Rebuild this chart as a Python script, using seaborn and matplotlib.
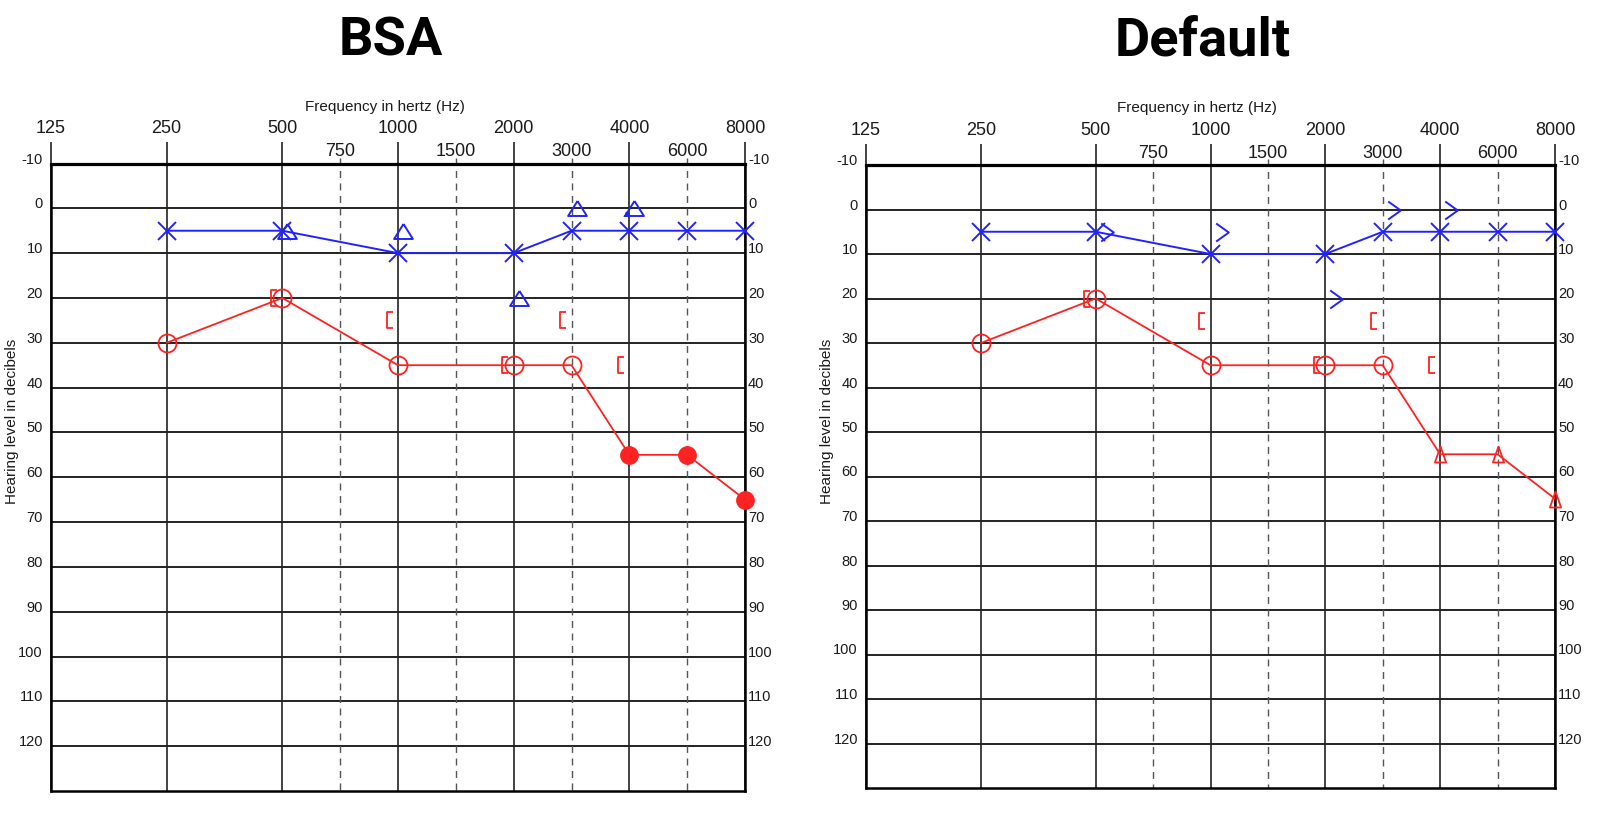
import numpy as np
import matplotlib
matplotlib.use("Agg")
import matplotlib.pyplot as plt
import seaborn as sns
from matplotlib.path import Path
from matplotlib.transforms import ScaledTranslation

sns.set_style("white")
plt.rcParams["font.family"] = ["Liberation Sans", "DejaVu Sans"]
plt.rcParams["text.color"] = "black"

# ── dados do audiograma ───────────────────────────────────────────────────────
FREQ = [250, 500, 1000, 2000, 3000, 4000, 6000, 8000]
LEFT_AIR = [5, 5, 10, 10, 5, 5, 5, 5]          # X azul
RIGHT_AIR = [30, 20, 35, 35, 35, 55, 55, 65]   # vermelho
N_OPEN = 5                                     # os 5 primeiros são "O" abertos

BONE_FREQ = [500, 1000, 2000, 3000, 4000]
LEFT_BONE = [5, 5, 20, 0, 0]                   # triângulo (BSA) / ">" (Default)
RIGHT_BONE = [20, 25, 35, 25, 35]              # colchete "["

OCTAVES = [125, 250, 500, 1000, 2000, 4000, 8000]
HALF_OCT = [750, 1500, 3000, 6000]
DB_TICKS = list(range(-10, 130, 10))

PANELS = ["BSA", "Default"]

BLUE = "#2222ff"
RED = "#ff2222"
INK = "#1a1a1a"


# escala do audiograma: linear dentro de cada oitava (750 fica no meio de 500-1000)
def fwd(f):
    f = np.clip(np.asarray(f, dtype=float), 1e-6, None)
    k = np.floor(np.log2(f / 125.0) + 1e-9)
    return k + f / (125.0 * 2 ** k) - 1


def inv(p):
    p = np.asarray(p, dtype=float)
    k = np.floor(p + 1e-9)
    return 125.0 * 2 ** k * (1 + p - k)


BRACKET = Path([(0.35, 1), (-0.35, 1), (-0.35, -1), (0.35, -1)])
GT = Path([(-0.7, 1), (0.7, 0), (-0.7, -1)])
TRI_WIDE = Path([(0, 0.8), (-1, -0.8), (1, -0.8), (0, 0.8)])
TRI_NARROW = Path([(0, 1), (-0.7, -1), (0.7, -1), (0, 1)])

fig = plt.figure(figsize=(15.99, 8.16), dpi=100)


def px(dx, dy=0):
    return ScaledTranslation(dx / 100, -dy / 100, fig.dpi_scale_trans)


boxes = [(51, 745, 163.5, 791), (866, 1555, 165, 788)]

for name, (x0, x1, y0, y1) in zip(PANELS, boxes):
    W, H = 1599, 816
    ax = fig.add_axes([x0 / W, (H - y1) / H, (x1 - x0) / W, (y1 - y0) / H])
    ax.set_xscale("function", functions=(fwd, inv))
    ax.set_xlim(125, 8000)
    ax.set_ylim(130, -10)

    # grade
    for y in DB_TICKS[1:]:
        ax.axhline(y, color="#111111", lw=1.3, zorder=1)
    ax.vlines(OCTAVES, -14.7, 130, color="#222222", lw=1.2, clip_on=False, zorder=1)
    ax.vlines(HALF_OCT, -11.3, 130, color="#555555", lw=1.0,
              linestyles=(0, (5, 4)), clip_on=False, zorder=1)

    for s in ax.spines.values():
        s.set_linewidth(1.8)
        s.set_color("black")
        s.set_zorder(4)
    ax.spines["top"].set_linewidth(2.3)

    # eixo de frequência no topo
    ax.set_xticks(OCTAVES)
    ax.set_xticklabels([str(f) for f in OCTAVES])
    ax.set_xticks(HALF_OCT, minor=True)
    ax.set_xticklabels([str(f) for f in HALF_OCT], minor=True)
    ax.tick_params(axis="x", which="both", bottom=False, labelbottom=False,
                   top=False, labeltop=True, length=0, labelsize=13, colors=INK)
    ax.tick_params(axis="x", which="major", pad=19)
    ax.tick_params(axis="x", which="minor", pad=2.5)

    ax.set_yticks(DB_TICKS)
    ax.set_yticklabels([str(v) for v in DB_TICKS])
    ax.tick_params(axis="y", length=0, pad=5.8, labelsize=10.5, colors=INK)
    plt.setp(ax.get_yticklabels(), va="baseline")

    axr = ax.twinx()
    axr.set_ylim(130, -10)
    axr.set_yticks(DB_TICKS)
    axr.set_yticklabels([str(v) for v in DB_TICKS])
    axr.tick_params(axis="y", length=0, pad=2.2, labelsize=10.5, colors=INK)
    plt.setp(axr.get_yticklabels(), va="baseline")
    for s in axr.spines.values():
        s.set_visible(False)

    ax.text(0.481, 1.0 + (163.5 - 111) / (y1 - y0), "Frequency in hertz (Hz)",
            transform=ax.transAxes, ha="center", va="baseline", fontsize=11,
            color=INK)
    ax.set_ylabel("Hearing level in decibels", fontsize=11, color=INK, labelpad=0)
    ax.yaxis.set_label_coords(-32 / (x1 - x0), 1 - (421 - y0) / (y1 - y0))

    fig.text((x0 + 0.489 * (x1 - x0)) / W, 1 - 55 / H, name, ha="center",
             va="baseline", fontsize=39, fontweight="bold", color="black",
             family=["Roboto", "DejaVu Sans"])

    # orelha esquerda, via aérea
    sns.lineplot(x=FREQ, y=LEFT_AIR, ax=ax, color=BLUE, lw=1.4, marker="x",
                 markersize=12.5, markeredgecolor=BLUE, markeredgewidth=1.4,
                 zorder=5, clip_on=False)

    # orelha direita, via aérea
    sns.lineplot(x=FREQ, y=RIGHT_AIR, ax=ax, color=RED, lw=1.3, zorder=5)
    ax.plot(FREQ[:N_OPEN], RIGHT_AIR[:N_OPEN], ls="none", marker="o", ms=13,
            mfc="none", mec=RED, mew=1.3, zorder=6, clip_on=False)
    if name == "BSA":
        ax.plot(FREQ[N_OPEN:], RIGHT_AIR[N_OPEN:], ls="none", marker="o", ms=12.5,
                mfc=RED, mec=RED, zorder=6, clip_on=False)
    else:
        ax.plot(FREQ[N_OPEN:], RIGHT_AIR[N_OPEN:], ls="none", marker=TRI_NARROW,
                ms=11.5, mfc="none", mec=RED, mew=1.3, zorder=6, clip_on=False)

    # via óssea
    ax.plot(BONE_FREQ, RIGHT_BONE, ls="none", marker=BRACKET, ms=12, mfc="none",
            mec=RED, mew=1.3, transform=ax.transData + px(-8.5), zorder=6)
    if name == "BSA":
        ax.plot(BONE_FREQ, LEFT_BONE, ls="none", marker=TRI_WIDE, ms=13.5,
                mfc="none", mec=BLUE, mew=1.4, transform=ax.transData + px(5),
                zorder=6)
        # setinha de "sem resposta" no 4000 Hz
        ax.annotate("", xy=(4000, 0), xycoords=ax.transData + px(-7, 10),
                    xytext=(4000, 0), textcoords=ax.transData + px(-3, 6),
                    arrowprops=dict(arrowstyle="-|>", color=BLUE, lw=1,
                                    mutation_scale=5), zorder=6)
    else:
        ax.plot(BONE_FREQ, LEFT_BONE, ls="none", marker=GT, ms=13,
                mfc="none", mec=BLUE, mew=1.4, transform=ax.transData + px(11),
                zorder=6)

    ax.set_xlim(125, 8000)
    ax.set_ylim(130, -10)
    ax.set_xlabel("")

fig.savefig("out.png", dpi=100)
